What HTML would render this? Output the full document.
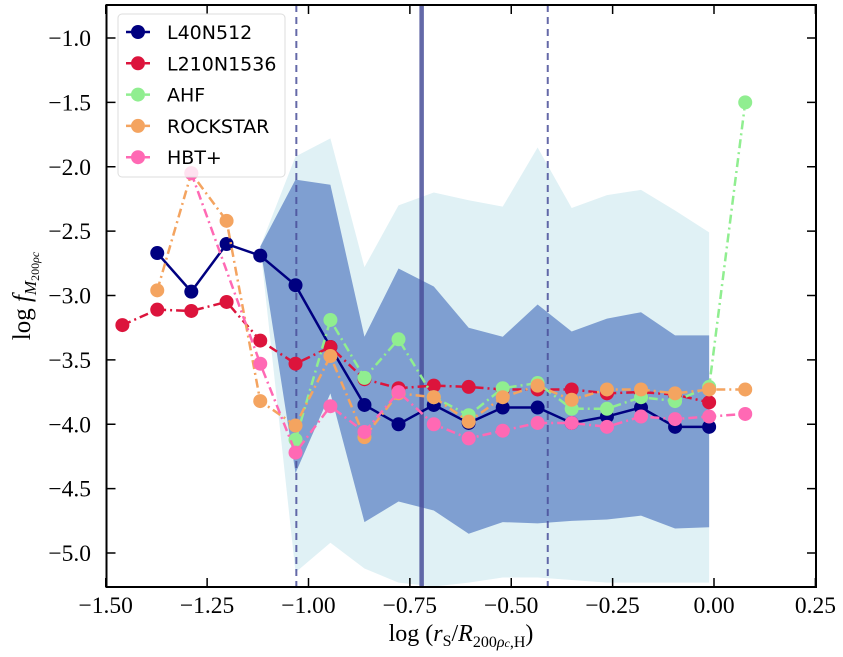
<!DOCTYPE html>
<html><head><meta charset="utf-8"><style>
body{margin:0;background:#fff;width:843px;height:652px;overflow:hidden}
svg{font-family:"Liberation Serif",serif}
.tk{font-size:23.5px}
.lg{font-family:"DejaVu Sans","Liberation Sans",sans-serif;font-size:19px}
</style></head><body>
<svg id="c" width="843" height="652" xmlns="http://www.w3.org/2000/svg"></svg>
<script>
const xsMain=[-1.459,-1.373,-1.289,-1.202,-1.119,-1.032,-0.946,-0.862,-0.778,-0.691,-0.605,-0.521,-0.435,-0.351,-0.264,-0.180,-0.096,-0.012,0.077];
const l40=[null,-2.67,-2.97,-2.60,-2.69,-2.92,-3.40,-3.85,-4.00,-3.85,-3.99,-3.87,-3.87,-3.99,-3.94,-3.87,-4.02,-4.02,null];
const l210=[-3.23,-3.11,-3.12,-3.05,-3.35,-3.53,-3.40,-3.65,-3.72,-3.70,-3.71,-3.73,-3.73,-3.73,-3.76,-3.75,-3.77,-3.83,null];
const ahf=[null,null,null,null,null,-4.12,-3.19,-3.64,-3.34,-3.79,-3.93,-3.72,-3.68,-3.88,-3.88,-3.79,-3.82,-3.71,-1.50];
const rock=[null,-2.96,-2.05,-2.42,-3.82,-4.01,-3.47,-4.10,-3.76,-3.79,-3.98,-3.79,-3.70,-3.81,-3.73,-3.73,-3.76,-3.73,-3.73];
const hbt=[null,null,-2.05,null,-3.53,-4.22,-3.86,-4.06,-3.75,-4.00,-4.11,-4.05,-3.99,-3.99,-4.02,-3.94,-3.96,-3.94,-3.92];
const bandX=[-1.119,-1.032,-0.946,-0.862,-0.778,-0.691,-0.605,-0.521,-0.435,-0.351,-0.264,-0.180,-0.096,-0.012];
const lightTop=[-2.62,-1.92,-1.78,-2.78,-2.30,-2.20,-2.26,-2.31,-1.85,-2.32,-2.22,-2.18,-2.34,-2.51];
const lightBot=[-2.62,-5.15,-4.92,-5.12,-5.23,-5.26,-5.23,-5.19,-5.19,-5.21,-5.23,-5.23,-5.23,-5.23];
const darkTop=[-2.62,-2.10,-2.14,-3.32,-2.79,-2.93,-3.25,-3.32,-3.07,-3.28,-3.18,-3.13,-3.31,-3.31];
const darkBot=[-2.62,-4.38,-3.76,-4.76,-4.60,-4.67,-4.85,-4.76,-4.77,-4.75,-4.74,-4.71,-4.81,-4.80];
const vDashed=[-1.03,-0.41];
const vSolid=[-0.721];
const xTicks=[-1.5,-1.25,-1.0,-0.75,-0.5,-0.25,0.0,0.25];
const xTickLabels=["−1.50","−1.25","−1.00","−0.75","−0.50","−0.25","0.00","0.25"];
const yTicks=[-1.0,-1.5,-2.0,-2.5,-3.0,-3.5,-4.0,-4.5,-5.0];
const yTickLabels=["−1.0","−1.5","−2.0","−2.5","−3.0","−3.5","−4.0","−4.5","−5.0"];
const series=[
 {name:"L40N512",vals:l40,color:"#000080",dash:""},
 {name:"L210N1536",vals:l210,color:"#dc143c",dash:"9,4,2,4"},
 {name:"AHF",vals:ahf,color:"#90ee90",dash:"9,4,2,4"},
 {name:"ROCKSTAR",vals:rock,color:"#f4a460",dash:"9,4,2,4"},
 {name:"HBT+",vals:hbt,color:"#ff69b4",dash:"9,4,2,4"}];
const L=106.5,R=816,T=5,B=587;
const X=v=>714+v*405.5;
const Y=v=>38-(v+1)*128.75;
const NS="http://www.w3.org/2000/svg";
const svg=document.getElementById('c');
function mk(t,a,p){const e=document.createElementNS(NS,t);for(const k in a)e.setAttribute(k,a[k]);(p||svg).appendChild(e);return e;}
function poly(xs,top,bot){let p=xs.map((x,i)=>X(x)+","+Y(top[i]));for(let i=xs.length-1;i>=0;i--)p.push(X(xs[i])+","+Y(bot[i]));return p.join(" ");}
const lb=mk('polygon',{points:poly(bandX,lightTop,lightBot),fill:"#e0f1f5"});


const db=mk('polygon',{points:poly(bandX,darkTop,darkBot),fill:"#7f9fd1"});


vDashed.forEach(v=>{const l=mk('line',{x1:X(v),x2:X(v),y1:T,y2:B,stroke:"#4a4f9a","stroke-width":2,"stroke-dasharray":"7,5",opacity:0.85});

});
vSolid.forEach(v=>{const l=mk('line',{x1:X(v),x2:X(v),y1:T,y2:B,stroke:"#4a4f9a","stroke-width":4.5,opacity:0.85});

});
series.forEach(s=>{const g=mk('g',{});


const pts=[];s.vals.forEach((v,i)=>{if(v!==null)pts.push([X(xsMain[i]),Y(v)]);});
mk('polyline',{points:pts.map(p=>p.join(",")).join(" "),fill:"none",stroke:s.color,"stroke-width":2.5,"stroke-dasharray":s.dash},g);
pts.forEach(p=>{const c=mk('circle',{cx:p[0],cy:p[1],r:7,fill:s.color},g);

});});
mk('rect',{x:L,y:T,width:R-L,height:B-T,fill:"none",stroke:"#000","stroke-width":2});
xTicks.forEach((v,i)=>{const x=X(v);mk('line',{x1:x,x2:x,y1:B,y2:B-9,stroke:"#000","stroke-width":1.5});mk('line',{x1:x,x2:x,y1:T,y2:T+9,stroke:"#000","stroke-width":1.5});
const t=mk('text',{x:x,y:613,"text-anchor":"middle",class:"tk"});t.textContent=xTickLabels[i];

});
yTicks.forEach((v,i)=>{const y=Y(v);mk('line',{x1:L,x2:L+9,y1:y,y2:y,stroke:"#000","stroke-width":1.5});mk('line',{x1:R,x2:R-9,y1:y,y2:y,stroke:"#000","stroke-width":1.5});
const t=mk('text',{x:91,y:y+8,"text-anchor":"end",class:"tk"});t.textContent=yTickLabels[i];

});
const lg=mk('g',{});


mk('rect',{x:118,y:14,width:167,height:163,rx:4,fill:"#fff","fill-opacity":0.8,stroke:"#ddd","stroke-width":1},lg);
series.forEach((s,i)=>{const y=32+i*31.3;
mk('line',{x1:126,x2:150,y1:y,y2:y,stroke:s.color,"stroke-width":2.5,"stroke-dasharray":s.dash},lg);
mk('circle',{cx:138,cy:y,r:7,fill:s.color},lg);
const t=mk('text',{x:167,y:y+7,class:"lg"},lg);t.textContent=s.name;

});
</script>
<svg style="position:absolute;left:0;top:0" width="843" height="652" xmlns="http://www.w3.org/2000/svg">
<text x="461" y="641" text-anchor="middle" font-family="Liberation Serif,serif" font-size="24">log (<tspan font-style="italic">r</tspan><tspan font-size="16" dy="5">S</tspan><tspan dy="-5">/</tspan><tspan font-style="italic">R</tspan><tspan font-size="16" dy="6">200<tspan font-style="italic">ρ</tspan><tspan font-size="12" font-style="italic">c</tspan>,H</tspan><tspan dy="-6">)</tspan></text>
<text transform="translate(30,296) rotate(-90)" text-anchor="middle" font-family="Liberation Serif,serif" font-size="25">log <tspan font-style="italic">f</tspan><tspan font-size="17" dy="6"><tspan font-style="italic">M</tspan><tspan font-size="12" dy="3">200<tspan font-style="italic">ρc</tspan></tspan></tspan></text>
</svg>
</body></html>
